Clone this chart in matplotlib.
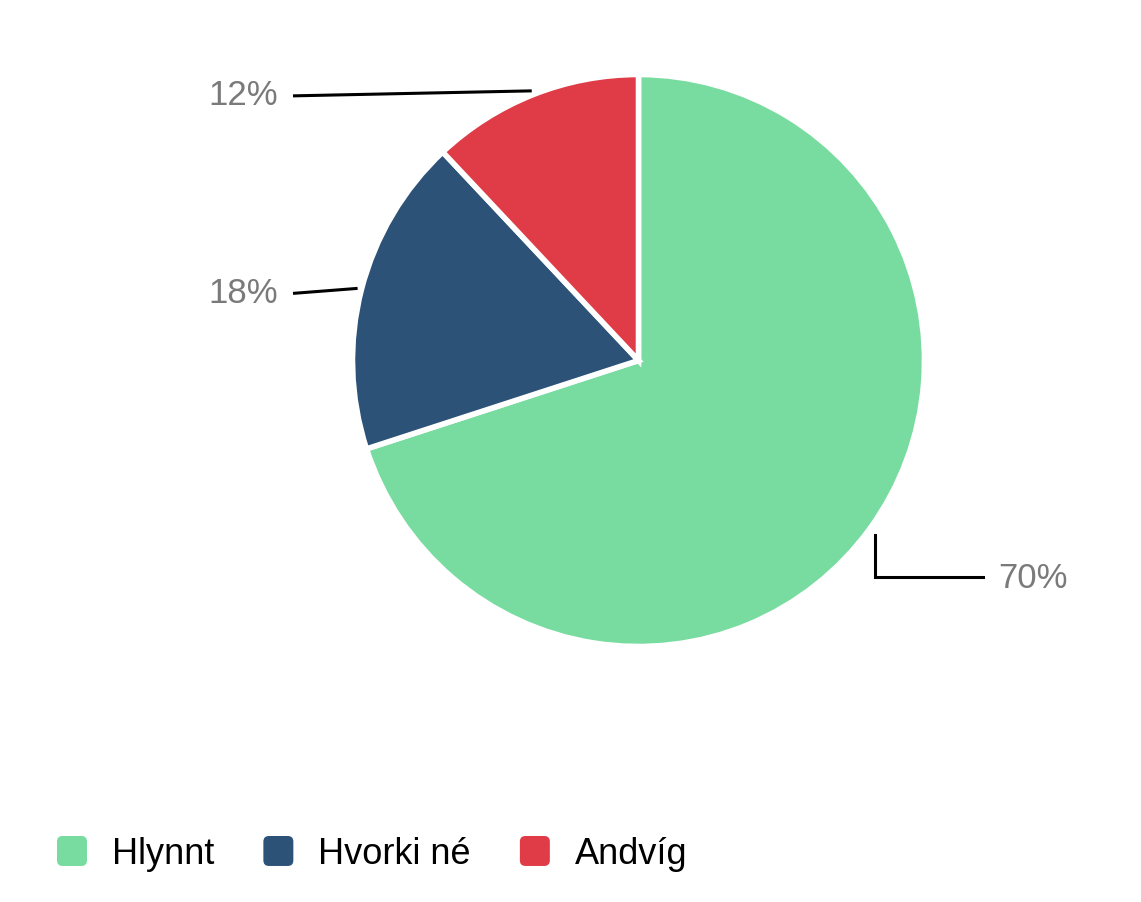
import numpy as np
import matplotlib
matplotlib.use("Agg")
import matplotlib.pyplot as plt
from matplotlib.patches import FancyBboxPatch, Patch
from matplotlib.legend_handler import HandlerPatch

plt.rcParams['font.family'] = ['Liberation Sans', 'DejaVu Sans']

# data
labels = ["Hlynnt", "Hvorki né", "Andvíg"]
values = [70, 18, 12]
colors = ["#78dca0", "#2c5277", "#e03c48"]

W, H = 1141, 902
fig = plt.figure(figsize=(W / 100, H / 100), dpi=100)
ax = fig.add_axes([0, 0, 1, 1])

cx, cy, r = 638.5, H - 360.5, 286
wedges, _ = ax.pie(values, colors=colors, startangle=90, counterclock=False,
                   center=(cx, cy), radius=r, frame=True,
                   wedgeprops=dict(edgecolor="white", linewidth=4))
ax.set_xlim(0, W)
ax.set_ylim(0, H)
ax.set_aspect("equal")
ax.axis("off")

# leader lines + labels
for w, v in zip(wedges, values):
    mid = np.deg2rad((w.theta1 + w.theta2) / 2)
    ex, ey = cx + (r + 4) * np.cos(mid), cy + (r + 4) * np.sin(mid)
    pct = f"{v}%"
    if np.cos(mid) < 0:
        lx, ly = 293, ey - 5
        ax.plot([ex, lx], [ey, ly], color="black", lw=2.2, solid_capstyle="butt")
        ax.text(lx - 15, ly, pct, ha="right", va="center", fontsize=25, color="#7a7a7a")
    else:
        kx, ky = ex + 2, ey - 4
        ky2 = ky - 42
        ax.plot([kx, kx, kx + 108], [ky, ky2, ky2], color="black", lw=2.2,
                solid_joinstyle="miter")
        ax.text(kx + 123, ky2 - 2, pct, ha="left", va="center", fontsize=25, color="#7a7a7a")


class RoundBox(HandlerPatch):
    def create_artists(self, legend, orig_handle, xdescent, ydescent, width, height,
                       fontsize, trans):
        s = width
        p = FancyBboxPatch((-xdescent, -ydescent + height / 2 - s / 2), width, s,
                           boxstyle="round,pad=0,rounding_size=4",
                           fc=orig_handle.get_facecolor(), ec="none", transform=trans)
        return [p]


handles = [Patch(facecolor=c, label=l) for c, l in zip(colors, labels)]
fig.legend(handles=handles, loc="center left", bbox_to_anchor=(57 / W, 1 - 854 / H),
           ncol=3, frameon=False, fontsize=26, handlelength=0.83, handleheight=0.83,
           handletextpad=0.69, columnspacing=1.36, borderpad=0, borderaxespad=0,
           handler_map={Patch: RoundBox()})

fig.savefig("out.png", dpi=100, facecolor="white")
